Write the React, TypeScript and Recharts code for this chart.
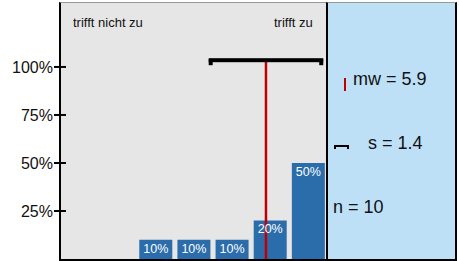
import { ComposedChart, Bar, XAxis, YAxis, CartesianGrid, ReferenceLine, LabelList } from 'recharts';

const categories = [1, 2, 3, 4, 5, 6, 7];
const shares = [0, 0, 10, 10, 10, 20, 50];
const yTicks = [25, 50, 75, 100];
const mean = 5.9;
const sd = 1.449;
const n = 10;
const lowLabel = 'trifft nicht zu';
const highLabel = 'trifft zu';

const FONT = '"Liberation Sans", Arial, sans-serif';

const data = categories.map((c, i) => ({ cat: c, value: shares[i] }));

function YTick(props: any) {
  const { x, y, payload } = props;
  return (
    <g>
      <line x1={x + 1} x2={x + 13} y1={y} y2={y} stroke="#000" strokeWidth={2} />
      <text x={x} y={y} dy="0.36em" textAnchor="end" fontSize={16} fill="#111" fontFamily={FONT}>
        {payload.value}%
      </text>
    </g>
  );
}

function SdBar(props: any) {
  const { x1, x2, y1 } = props;
  return (
    <g>
      <rect x={x1 - 2} y={y1 - 3} width={x2 - x1 + 4} height={4} fill="#000" />
      <rect x={x1 - 2} y={y1 - 2} width={4} height={6} fill="#000" />
      <rect x={x2 - 2} y={y1 - 2} width={4} height={6} fill="#000" />
    </g>
  );
}

export default function App() {
  return (
    <div style={{ position: 'relative', width: 459, height: 261, fontFamily: FONT }}>
      <style>{'body{margin:0}'}</style>
      <ComposedChart width={459} height={261} data={data} margin={{ top: 3, right: 132, bottom: 2, left: 0 }}>
        <CartesianGrid fill="#e6e6e6" horizontal={false} vertical={false} />
        <XAxis dataKey="cat" type="number" domain={[0.5, 7.5]} hide />
        <YAxis
          width={60}
          domain={[0, 133.3]}
          ticks={yTicks}
          tickSize={6}
          tickMargin={1}
          tickLine={false}
          axisLine={{ stroke: '#000', strokeWidth: 2 }}
          tick={<YTick />}
        />
        <Bar dataKey="value" fill="#2b6dab" barSize={33} isAnimationActive={false}>
          <LabelList
            dataKey="value"
            position="insideTop"
            offset={4}
            fill="#fff"
            fontSize={12.5}
            fontFamily={FONT}
            formatter={(v: any) => (v > 0 ? `${v}%` : '')}
          />
        </Bar>
        <ReferenceLine
          segment={[{ x: mean, y: 0 }, { x: mean, y: 103 }]}
          stroke="#c00000"
          strokeWidth={2.5}
        />
        <ReferenceLine
          segment={[{ x: mean - sd, y: 103 }, { x: mean + sd, y: 103 }]}
          shape={<SdBar />}
        />
      </ComposedChart>
      <div style={{ position: 'absolute', left: 73, top: 15, fontSize: 13, color: '#111' }}>{lowLabel}</div>
      <div style={{ position: 'absolute', left: 274, top: 15, fontSize: 13, color: '#111' }}>{highLabel}</div>
      <div
        style={{
          position: 'absolute',
          left: 59,
          top: 2,
          width: 266,
          height: 256,
          borderTop: '1px solid #999',
          borderLeft: '2px solid #000',
          borderBottom: '2px solid #000',
          pointerEvents: 'none',
        }}
      />
      <div
        style={{
          position: 'absolute',
          left: 326,
          top: 2,
          width: 127,
          height: 256,
          background: '#bde0f7',
          borderTop: '1px solid #999',
          borderLeft: '2px solid #000',
          borderRight: '2px solid #000',
          borderBottom: '2px solid #000',
        }}
      >
        <div style={{ position: 'absolute', left: 16, top: 75, width: 2, height: 13, background: '#c00000' }} />
        <div style={{ position: 'absolute', left: 25, top: 66, fontSize: 18, color: '#111' }}>mw = {mean.toFixed(1)}</div>
        <div style={{ position: 'absolute', left: 6, top: 142, width: 15, height: 2, background: '#000' }} />
        <div style={{ position: 'absolute', left: 6, top: 142, width: 2, height: 4, background: '#000' }} />
        <div style={{ position: 'absolute', left: 19, top: 142, width: 2, height: 4, background: '#000' }} />
        <div style={{ position: 'absolute', left: 40, top: 130, fontSize: 18, color: '#111' }}>s = {sd.toFixed(1)}</div>
        <div style={{ position: 'absolute', left: 5, top: 194, fontSize: 18, color: '#111' }}>n = {n}</div>
      </div>
    </div>
  );
}
